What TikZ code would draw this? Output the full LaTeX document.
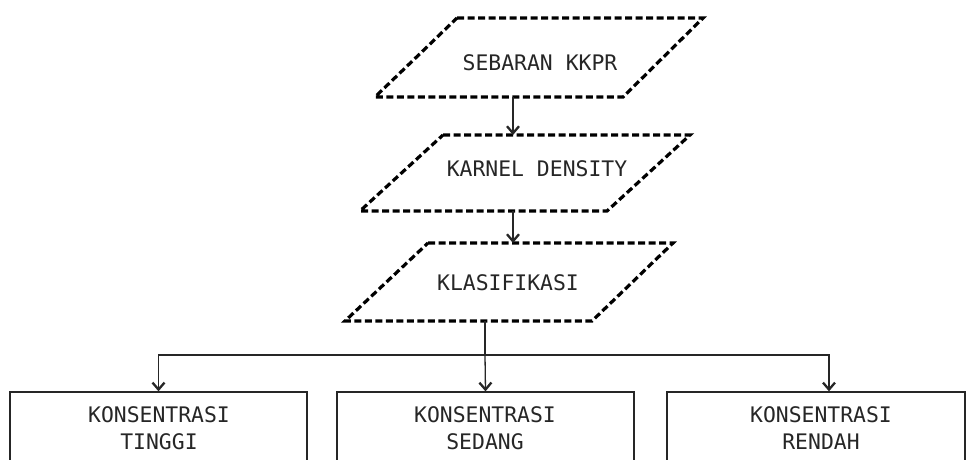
\documentclass[tikz,border=0pt]{standalone}
\usepackage{fontspec}
\setmonofont{DejaVu Sans Mono}
\usetikzlibrary{arrows.meta}
\begin{document}
\begin{tikzpicture}[x=1pt,y=-1pt,
  para/.style={draw=black, line width=3.2pt, dash pattern=on 7pt off 3.5pt, line join=miter},
  lbl/.style={font=\ttfamily\fontsize{21.4}{27}\selectfont, align=center, inner sep=0pt, text=black!85},
  boxnode/.style={draw=black!85, line width=1.3pt, inner sep=0pt},
  conn/.style={draw=black!85, line width=1.3pt},
  arr/.style={conn, -{Straight Barb[length=7pt,width=12pt,line width=2.3pt]}}]
\useasboundingbox (0,0) rectangle (966,459);
\clip (0,0) rectangle (966,459);
\fill[white] (0,0) rectangle (966,459);
% parallelograms
\draw[para] (457,18) -- (703,18) -- (623,97) -- (375,97) -- cycle;
\draw[para] (443,135) -- (690,135) -- (607,211) -- (360,211) -- cycle;
\draw[para] (428,243) -- (673,243) -- (592,321) -- (345,321) -- cycle;
\node[lbl] (t1) at (540,62.5) {SEBARAN KKPR};
\node[lbl] (t2) at (537,168.5) {KARNEL DENSITY};
\node[lbl] (t3) at (508,282.5) {KLASIFIKASI};
% boxes
\node[boxnode, minimum width=297pt, minimum height=88pt] (b1) at (158.5,436) {};
\node[boxnode, minimum width=297pt, minimum height=88pt] (b2) at (485.5,436) {};
\node[boxnode, minimum width=298pt, minimum height=88pt] (b3) at (816,436) {};
\node[lbl] (l1) at (159,428.5) {KONSENTRASI\\TINGGI};
\node[lbl] (l2) at (485,428.5) {KONSENTRASI\\SEDANG};
\node[lbl] (l3) at (821,428.5) {KONSENTRASI\\RENDAH};
% connector points
\coordinate (p1b) at (513,97);
\coordinate (p2t) at (513,135);
\coordinate (p2b) at (513,211);
\coordinate (p3t) at (513,243);
\coordinate (p3b) at (485,321);
\coordinate (split) at (485,355);
\draw[arr] (p1b) -- (p2t);
\draw[arr] (p2b) -- (p3t);
\draw[conn] (p3b) -- (split);
\draw[arr] (split) -| (b1.north);
\draw[arr] (split) -- (b2.north);
\draw[arr] (split) -| ([xshift=13pt]b3.north);
\end{tikzpicture}
\end{document}
